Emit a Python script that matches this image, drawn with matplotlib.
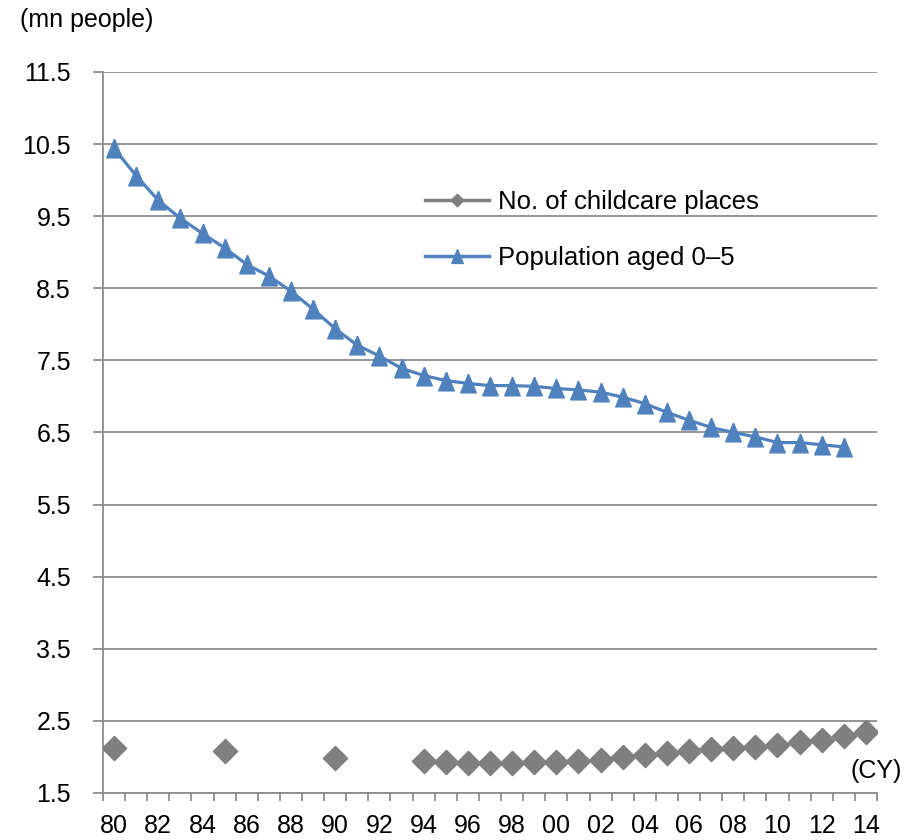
import matplotlib.pyplot as plt
import numpy as np
from matplotlib.lines import Line2D

plt.rcParams['font.family'] = ['Liberation Sans', 'DejaVu Sans']

# calendar years 1980-2014
years = np.arange(1980, 2015)
tick_labels = ["%02d" % (y % 100) for y in years[::2]]

# population aged 0-5 (mn people), 1980-2013
pop_years = np.arange(1980, 2014)
population = [10.44, 10.06, 9.72, 9.47, 9.26, 9.06, 8.83, 8.67, 8.46, 8.21,
              7.94, 7.71, 7.56, 7.39, 7.29, 7.22, 7.18, 7.15, 7.15, 7.14,
              7.11, 7.09, 7.06, 6.99, 6.90, 6.78, 6.67, 6.57, 6.50, 6.44,
              6.36, 6.36, 6.33, 6.30]

# number of childcare places (mn)
care_years = [1980, 1985, 1990] + list(range(1994, 2015))
childcare = [2.13, 2.08, 1.99,
             1.94, 1.93, 1.92, 1.92, 1.92, 1.93, 1.93, 1.94, 1.96, 2.00,
             2.03, 2.06, 2.08, 2.11, 2.13, 2.14, 2.16, 2.20, 2.23, 2.29, 2.34]

blue = '#4F81BD'
gray = '#7F7F7F'
gridc = '#8C8C8C'
fs = 18

diamond = [(0, 1), (1, 0), (0, -1), (-1, 0), (0, 1)]
triangle = [(0, 1), (0.83, -1), (-0.83, -1), (0, 1)]

fig = plt.figure(figsize=(9.22, 8.4), dpi=100)
ax = fig.add_axes([0.1117, 0.0560, 0.8395, 0.8583])

ax.plot(pop_years, population, color=blue, linewidth=2.3, marker=triangle,
        markersize=13.5, zorder=3)
ax.plot(care_years, childcare, linestyle='none', marker=diamond,
        markersize=17.5, color=gray, zorder=3)

ax.set_xlim(1979.5, 2014.5)
ax.set_ylim(1.5, 11.5)
ax.set_yticks(np.arange(1.5, 11.6, 1.0))
ax.set_yticklabels(["%.1f" % v for v in np.arange(1.5, 11.6, 1.0)])
ax.set_xticks(years[::2])
ax.set_xticklabels(tick_labels)
ax.set_xticks(np.arange(1979.5, 2015, 1.0), minor=True)

ax.grid(axis='y', color=gridc, linewidth=1.3, zorder=0)
ax.tick_params(axis='y', length=7, width=1.3, color=gridc, pad=16,
               labelsize=fs, direction='out')
ax.tick_params(axis='x', which='major', length=0, pad=15, labelsize=fs)
ax.tick_params(axis='x', which='minor', length=6, width=1.3, color=gridc,
               direction='out')

for s in ['top', 'right']:
    ax.spines[s].set_visible(False)
for s in ['left', 'bottom']:
    ax.spines[s].set_color(gridc)
    ax.spines[s].set_linewidth(1.3)

handles = [Line2D([], [], color=gray, linewidth=2.5, marker=diamond, markersize=9),
           Line2D([], [], color=blue, linewidth=2.5, marker=triangle, markersize=10)]
ax.legend(handles, ['No. of childcare places', 'Population aged 0\u20135'],
          loc='center left', bbox_to_anchor=(0.461, 0.726),
          bbox_transform=fig.transFigure, frameon=False, fontsize=18.5,
          handlelength=2.5, handletextpad=0.32, labelspacing=1.25,
          borderpad=0, borderaxespad=0)

ax.text(1.032, 0.03, '(CY)', transform=ax.transAxes, ha='right',
        va='center', fontsize=fs)
fig.text(0.0217, 0.976, '(mn people)', ha='left', va='center', fontsize=fs)

plt.savefig('out.png', dpi=100)
